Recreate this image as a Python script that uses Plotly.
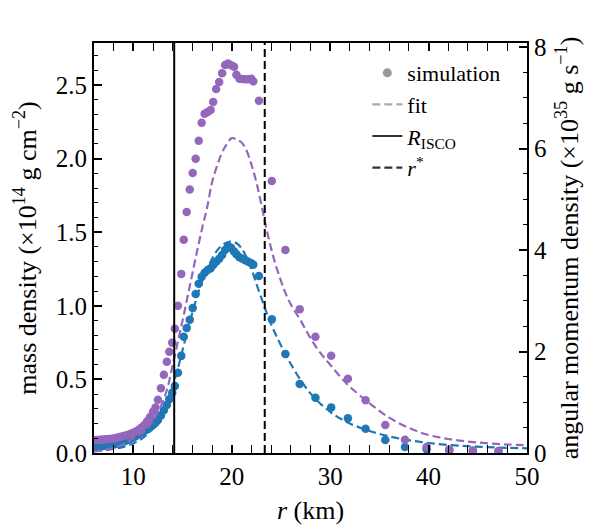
import plotly.graph_objects as go

# ---------------- data ----------------
r_sim = [6.0, 6.3, 6.6, 6.9, 7.2, 7.5, 7.8, 8.1, 8.4, 8.7, 9.0, 9.3, 9.6, 9.9,
         10.2, 10.5, 10.8, 11.1, 11.4, 11.7, 12.0, 12.25, 12.5, 12.8, 13.1, 13.4,
         13.65, 13.95, 14.22, 14.53, 14.87, 15.12, 15.42, 15.73, 16.03, 16.33,
         16.64, 16.94, 17.24, 17.55, 17.85, 18.11, 18.41, 18.72, 19.02, 19.32,
         19.63, 19.93, 20.23, 20.47, 20.78, 21.08, 21.38, 21.69, 21.99, 22.19,
         22.76, 24.07, 25.45, 26.9, 28.5, 30.1, 31.8, 33.6, 35.6, 37.6, 39.8,
         42.1, 44.5, 47.1]

# mass density (x1e14 g cm^-2), simulation
sigma_sim = [0.045, 0.046, 0.047, 0.048, 0.050, 0.052, 0.055, 0.060, 0.065, 0.072,
             0.078, 0.085, 0.093, 0.103, 0.113, 0.125, 0.138, 0.150, 0.160, 0.175,
             0.190, 0.205, 0.225, 0.255, 0.290, 0.326, 0.365, 0.410, 0.455, 0.545,
             0.660, 0.790, 0.850, 0.905, 0.985, 1.080, 1.150, 1.198, 1.225, 1.243,
             1.255, 1.277, 1.300, 1.320, 1.345, 1.380, 1.405, 1.395, 1.370, 1.350,
             1.330, 1.320, 1.310, 1.300, 1.290, 1.280, 1.202, 0.908, 0.673, 0.469,
             0.376, 0.310, 0.236, 0.165, 0.088, 0.041, 0.025, 0.018, 0.014, 0.011]

# angular momentum density (x1e35 g s^-1), simulation
j_sim = [0.255, 0.258, 0.261, 0.264, 0.270, 0.276, 0.281, 0.290, 0.305, 0.319,
         0.334, 0.348, 0.368, 0.392, 0.421, 0.455, 0.499, 0.551, 0.624, 0.711,
         0.812, 0.896, 1.050, 1.276, 1.540, 1.798, 1.996, 2.175, 2.451, 2.900,
         3.530, 4.203, 4.748, 5.195, 5.517, 5.801, 6.155, 6.509, 6.686, 6.721,
         6.758, 6.918, 7.173, 7.310, 7.484, 7.646, 7.678, 7.640, 7.611, 7.455,
         7.376, 7.370, 7.365, 7.365, 7.376, 7.324, 6.941, 5.360, 4.000, 2.831,
         2.292, 1.917, 1.465, 1.038, 0.551, 0.261, 0.119, 0.067, 0.049, 0.038]

# fitted profiles
r_fit = [6, 7, 8, 9, 10, 11, 12, 12.5, 13, 13.5, 14, 14.5, 15, 15.5, 16, 16.5,
         17, 17.5, 18, 18.5, 19, 19.5, 20, 20.5, 21, 21.5, 22, 22.5, 23, 23.5,
         24, 24.5, 25, 25.5, 26, 27, 28, 29, 30, 31, 32, 34, 36, 38, 40, 42,
         44, 46, 48, 50]
sigma_fit = [0.012, 0.018, 0.027, 0.042, 0.065, 0.105, 0.170, 0.220, 0.285,
             0.365, 0.455, 0.570, 0.700, 0.830, 0.955, 1.070, 1.170, 1.250,
             1.320, 1.375, 1.410, 1.430, 1.436, 1.425, 1.390, 1.330, 1.250,
             1.150, 1.055, 0.960, 0.875, 0.800, 0.730, 0.665, 0.605, 0.495,
             0.405, 0.335, 0.280, 0.235, 0.200, 0.150, 0.113, 0.087, 0.068,
             0.055, 0.046, 0.040, 0.035, 0.032]
j_fit = [0.029, 0.058, 0.101, 0.174, 0.290, 0.406, 0.638, 0.812, 1.015, 1.305,
         1.740, 2.175, 2.610, 3.074, 3.538, 4.002, 4.437, 4.843, 5.336, 5.655,
         5.916, 6.090, 6.206, 6.177, 6.119, 5.960, 5.684, 5.336, 4.901, 4.437,
         4.031, 3.683, 3.393, 3.132, 2.929, 2.610, 2.262, 1.972, 1.740, 1.508,
         1.305, 0.980, 0.696, 0.493, 0.354, 0.276, 0.226, 0.191, 0.168, 0.154]

r_isco = 14.15
r_star = 23.35

blue = "#1f77b4"
purple = "#9467bd"
FONT = "Liberation Serif"

# ---------------- figure ----------------
fig = go.Figure()

fig.add_trace(go.Scatter(x=r_sim, y=sigma_sim, mode="markers",
                         marker=dict(color=blue, size=8.5, line=dict(width=0)),
                         showlegend=False, yaxis="y"))
fig.add_trace(go.Scatter(x=r_sim, y=j_sim, mode="markers",
                         marker=dict(color=purple, size=8.5, line=dict(width=0)),
                         showlegend=False, yaxis="y2"))
fig.add_trace(go.Scatter(x=r_fit, y=sigma_fit, mode="lines", line_shape="spline",
                         line=dict(color=blue, width=2.2, dash="8px,4px"),
                         showlegend=False, yaxis="y"))
fig.add_trace(go.Scatter(x=r_fit, y=j_fit, mode="lines", line_shape="spline",
                         line=dict(color=purple, width=2.2, dash="8px,4px"),
                         showlegend=False, yaxis="y2"))

# legend proxies
fig.add_trace(go.Scatter(x=[None], y=[None], mode="markers", name="simulation",
                         marker=dict(color="#999999", size=9)))
fig.add_trace(go.Scatter(x=[None], y=[None], mode="lines", name="fit",
                         line=dict(color="#aaaaaa", width=2.2, dash="8px,4px")))
fig.add_trace(go.Scatter(x=[None], y=[None], mode="lines",
                         name="<i>R</i><sub>ISCO</sub>",
                         line=dict(color="#333333", width=2.2)))
fig.add_trace(go.Scatter(x=[None], y=[None], mode="lines",
                         name="<i>r</i><sup>*</sup>",
                         line=dict(color="#333333", width=2.2, dash="8px,4px")))

fig.add_shape(type="line", xref="x", yref="paper", x0=r_isco, x1=r_isco,
              y0=0, y1=1, line=dict(color="black", width=2), layer="above")
fig.add_shape(type="line", xref="x", yref="paper", x0=r_star, x1=r_star,
              y0=0, y1=1, line=dict(color="black", width=2, dash="8px,4px"),
              layer="above")

tickfont = dict(family=FONT, size=25, color="black")
titlefont = dict(family=FONT, size=26, color="black")

fig.update_layout(
    width=589, height=525,
    margin=dict(l=94, r=62, t=43, b=72, autoexpand=False),
    plot_bgcolor="white", paper_bgcolor="white",
    font=dict(family=FONT, size=23, color="black"),
    xaxis=dict(range=[6, 50], tickvals=[10, 20, 30, 40, 50], ticks="inside",
               ticklen=8, tickwidth=2, tickcolor="black", automargin=False,
               showline=True, linewidth=2, linecolor="black", mirror="allticks",
               showgrid=False, zeroline=False, tickfont=tickfont,
               minor=dict(dtick=2, tick0=0, ticks="inside", ticklen=4,
                          tickwidth=1.3, tickcolor="black", showgrid=False),
               title=dict(text="<i>r</i> (km)", font=titlefont, standoff=14)),
    yaxis=dict(range=[0, 2.786], tickvals=[0, 0.5, 1.0, 1.5, 2.0, 2.5],
               ticktext=["0.0", "0.5", "1.0", "1.5", "2.0", "2.5"],
               ticks="inside", ticklen=8, tickwidth=2, tickcolor="black",
               automargin=False,
               showline=True, linewidth=2, linecolor="black", mirror=False,
               showgrid=False, zeroline=False, tickfont=tickfont,
               minor=dict(dtick=0.1, tick0=0, ticks="inside", ticklen=4,
                          tickwidth=1.3, tickcolor="black", showgrid=False),
               title=dict(text="mass density (×10<sup>14</sup> g cm<sup>−2</sup>)",
                          font=titlefont, standoff=12)),
    yaxis2=dict(range=[0, 8.08], overlaying="y", side="right",
                tickvals=[0, 2, 4, 6, 8], ticks="inside", ticklen=8, tickwidth=2,
                tickcolor="black", showline=True, linewidth=2, linecolor="black",
                automargin=False,
                showgrid=False, zeroline=False, tickfont=tickfont,
                minor=dict(dtick=0.5, tick0=0, ticks="inside", ticklen=4,
                           tickwidth=1.3, tickcolor="black", showgrid=False),
                title=dict(text="angular momentum density (×10<sup>35</sup> g s<sup>−1</sup>)",
                           font=titlefont, standoff=14)),
    legend=dict(x=0.95, y=0.978, xanchor="right", yanchor="top",
                bgcolor="rgba(0,0,0,0)", borderwidth=0,
                font=dict(family=FONT, size=22, color="black"),
                tracegroupgap=0, itemwidth=30),
    showlegend=True,
    hovermode=False,
)

fig.write_html("out.html")
